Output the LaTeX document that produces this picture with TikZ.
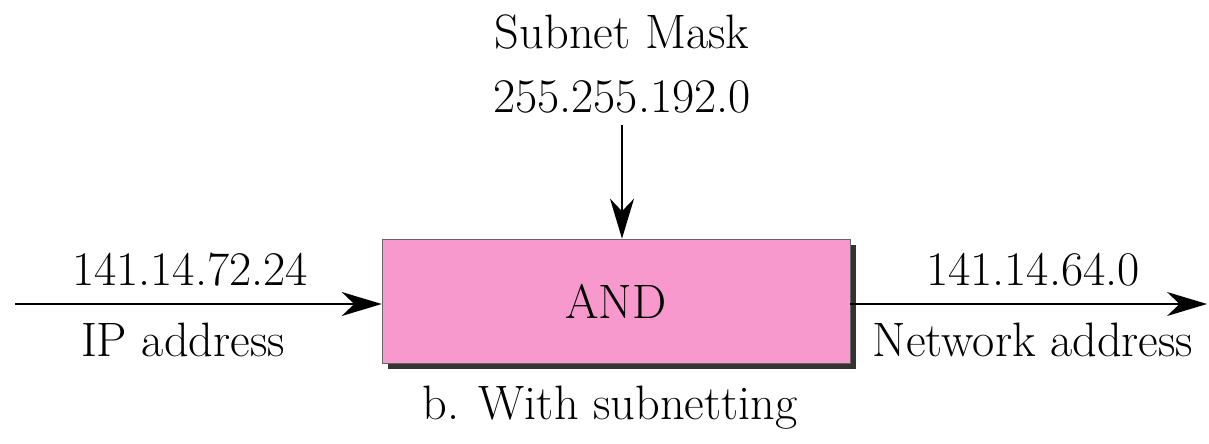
\documentclass[tikz,border=0pt]{standalone}
\usetikzlibrary{arrows.meta,shadows}
\definecolor{andpink}{RGB}{247,153,204}
\tikzset{
  lbl/.style={font=\fontsize{27.5}{33}\selectfont, inner sep=0pt},
  gatebox/.style={draw=black!60, fill=andpink, minimum width=9.36cm, minimum height=2.48cm,
    font=\fontsize{27.5}{33}\selectfont,
    drop shadow={shadow xshift=0.12cm, shadow yshift=-0.12cm, fill=black!80, opacity=1}},
  arr/.style={-{Stealth[length=0.8cm, width=0.48cm, inset=0.25cm]}, line width=0.8pt}
}
\begin{document}
\begin{tikzpicture}[x=0.02cm, y=-0.02cm]
\useasboundingbox (0,0) rectangle (1209,443);
% la porte AND
\node[gatebox] (andbox) at (616,301) {AND};
%
\node[lbl] (masklbl) at (622,32) {Subnet Mask};
\node[lbl] (maskval) at (622,97) {255.255.192.0};
\coordinate (maskin) at (622,125);
\draw[arr] (maskin) -- (maskin |- andbox.north); % masque
%
\coordinate (ipin) at (15,304);
\node[lbl] (ipval) at (190,270) {141.14.72.24};
\node[lbl] (iplbl) at (183,340) {IP address};
\draw[arr] (ipin) -- (andbox.west |- ipin); % adresse IP
%
\coordinate (netout) at (1207,304);
\node[lbl] (netval) at (1033,270) {141.14.64.0};
\node[lbl] (netlbl) at (1033,340) {Network address};
\draw[arr] (andbox.east |- netout) -- (netout); % adresse reseau
%
\node[lbl] (caption) at (610,408) {b. With subnetting};
\end{tikzpicture}
\end{document}
